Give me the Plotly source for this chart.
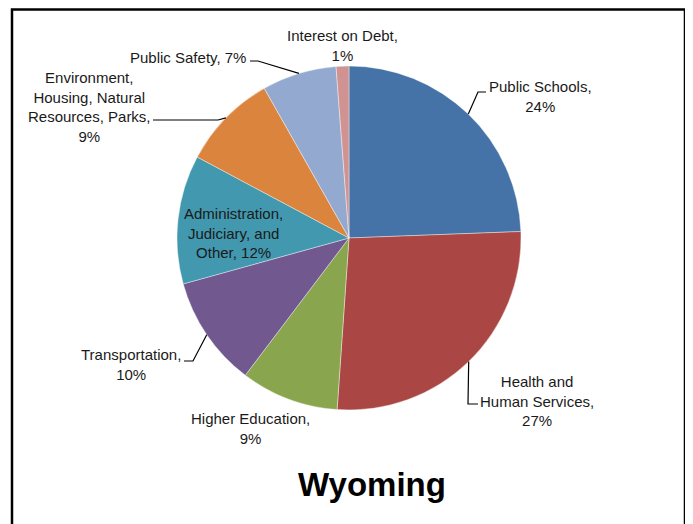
import math

import plotly.graph_objects as go

# Spending shares, clockwise from 12 o'clock
categories = [
    "Public Schools",
    "Health and Human Services",
    "Higher Education",
    "Transportation",
    "Administration, Judiciary, and Other",
    "Environment, Housing, Natural Resources, Parks",
    "Public Safety",
    "Interest on Debt",
]
values = [24.4, 26.7, 9.2, 10.4, 12.1, 9.0, 7.0, 1.2]
label_text = [
    "Public Schools,",
    "Health and<br>Human Services,",
    "Higher Education,",
    "Transportation,",
    "Administration,<br>Judiciary, and<br>Other,",
    "Environment,<br>Housing, Natural<br>Resources, Parks,",
    "Public Safety,",
    "Interest on Debt,",
]
# percentage goes on a new line unless the label says otherwise
pct_inline = [False, False, False, False, True, False, True, False]
title = "Wyoming"

COLORS = ["#4572A7", "#AA4643", "#89A54E", "#71588F",
          "#4198AF", "#DB843D", "#93A9CF", "#D19392"]

W, H = 693, 524
PAGE_OFFSET = 8  # the html body margin shifts the plot by this much
CX, CY, R = 349, 238, 172  # pie centre / radius in window pixels
FONT = "Liberation Sans, Arial, sans-serif"
TEXT_COLOR = "#1a1a1a"

# label centre (px) and the elbow of the leader line (None = no line)
LABEL_POS = [
    ((540, 96), [(478, 92), (486, 92)]),
    ((537, 401), [(468, 404), (478, 404)]),
    ((250, 428), None),
    ((131, 364), [(193, 361), (184, 361)]),
    ((233, 233), None),
    ((89, 107), [(218, 120), (153, 120)]),
    ((188, 57), [(258, 61), (250, 61)]),
    ((342, 46), None),
]


def px(x):
    return (x - PAGE_OFFSET) / W


def py(y):
    return 1 - (y - PAGE_OFFSET) / H


fig = go.Figure(go.Pie(
    labels=categories,
    values=values,
    sort=False,
    direction="clockwise",
    rotation=0,
    marker=dict(colors=COLORS, line=dict(color="white", width=0.4)),
    textinfo="none",
    hoverinfo="label+percent",
    showlegend=False,
    domain=dict(x=[px(CX - R), px(CX + R)], y=[py(CY + R), py(CY - R)]),
))

total = sum(values)
cum = 0.0
annotations = []
shapes = []
for name, v, inline, (pos, elbow) in zip(label_text, values, pct_inline, LABEL_POS):
    mid = 2 * math.pi * (cum + v / 2) / total
    cum += v
    pct = f"{round(100 * v / total)}%"
    text = f"{name} {pct}" if inline else f"{name}<br>{pct}"
    annotations.append(dict(
        x=px(pos[0]), y=py(pos[1]), xref="paper", yref="paper",
        text=text, showarrow=False, align="center",
        xanchor="center", yanchor="middle",
        font=dict(family=FONT, size=15, color=TEXT_COLOR),
    ))
    if elbow:
        ex, ey = CX + R * math.sin(mid), CY - R * math.cos(mid)
        pts = [(ex, ey)] + elbow
        path = "M " + " L ".join(f"{px(a)},{py(b)}" for a, b in pts)
        shapes.append(dict(type="path", path=path, xref="paper", yref="paper",
                           line=dict(color="black", width=1.2)))

annotations.append(dict(
    x=px(372), y=py(484), xref="paper", yref="paper",
    text=f"<b>{title}</b>", showarrow=False,
    xanchor="center", yanchor="middle",
    font=dict(family=FONT, size=33, color="black"),
))

# outer frame of the chart area (bottom edge falls below the window)
shapes.append(dict(type="rect", xref="paper", yref="paper",
                   x0=px(12), x1=px(685), y0=py(560), y1=py(9.5),
                   line=dict(color="black", width=2.5)))

fig.update_layout(
    width=W,
    height=H,
    autosize=False,
    margin=dict(l=0, r=0, t=0, b=0),
    paper_bgcolor="white",
    plot_bgcolor="white",
    annotations=annotations,
    shapes=shapes,
)

fig.write_html("out.html")
